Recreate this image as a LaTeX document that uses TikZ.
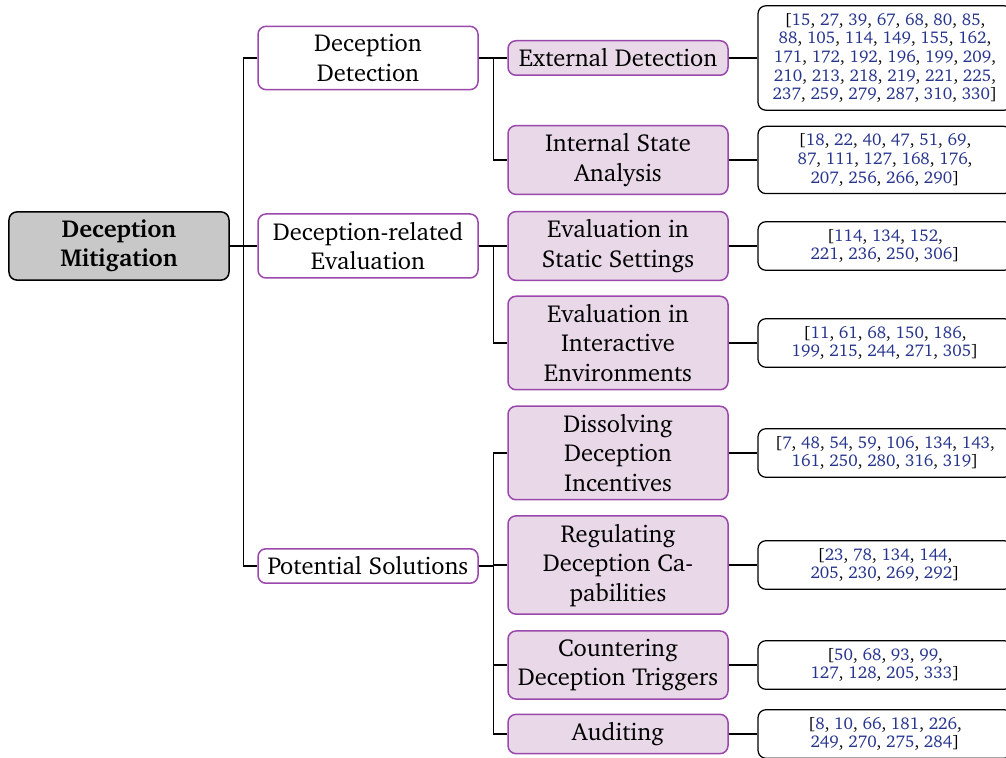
\documentclass[tikz,border=0pt]{standalone}
\usepackage[T1]{fontenc}
\usepackage{charter}
\usetikzlibrary{positioning}

\definecolor{branchline}{RGB}{155,72,172}
\definecolor{leaffill}{RGB}{232,216,232}
\definecolor{rootfill}{RGB}{200,200,200}
\definecolor{citeblue}{RGB}{38,52,140}

% one cited reference number
\newcommand{\cn}[1]{\textcolor{citeblue}{#1}}

\tikzset{
  base/.style={rounded corners=3.2pt, line width=0.6pt, align=center,
    font=\fontsize{9.8}{11.8}\selectfont, inner xsep=2pt, inner ysep=3.2pt},
  rootbox/.style={base, draw=black, fill=rootfill, minimum width=88pt,
    font=\fontsize{9.8}{11.8}\selectfont\bfseries},
  topicbox/.style={base, draw=branchline, fill=white, minimum width=88pt},
  subbox/.style={base, draw=branchline, fill=leaffill, minimum width=88pt},
  citebox/.style={rounded corners=3.2pt, line width=0.5pt, draw=black, fill=white,
    align=center, minimum width=101.6pt, inner ysep=3pt,
    font=\fontsize{6.8}{7.45}\selectfont},
  link/.style={line width=0.5pt, draw=black},
}

\begin{document}
\begin{tikzpicture}[x=0.4pt, y=-0.4pt]
\useasboundingbox (0,0) rectangle (1006,758);

% root
\node[rootbox] (root) at (119,246) {Deception\\Mitigation};

% first level
\node[topicbox] (det)  at (368,58)  {Deception\\Detection};
\node[topicbox] (eval) at (368,246) {Deception-related\\Evaluation};
\node[topicbox] (sol)  at (368,566) {Potential Solutions};

% second level
\node[subbox] (ext)   at (618,58)  {External Detection};
\node[subbox] (int)   at (618,160) {Internal State\\Analysis};
\node[subbox] (stat)  at (618,246) {Evaluation in\\Static Settings};
\node[subbox] (inter) at (618,343) {Evaluation in\\Interactive\\Environments};
\node[subbox] (diss)  at (618,453) {Dissolving\\Deception\\Incentives};
\node[subbox] (reg)   at (618,565) {Regulating\\Deception Ca-\\pabilities};
\node[subbox] (count) at (618,665) {Countering\\Deception Triggers};
\node[subbox] (aud)   at (618,734) {Auditing};

% reference lists
\node[citebox] (cext) at (885,58) {[\cn{15}, \cn{27}, \cn{39}, \cn{67}, \cn{68}, \cn{80}, \cn{85},\\
  \cn{88}, \cn{105}, \cn{114}, \cn{149}, \cn{155}, \cn{162},\\
  \cn{171}, \cn{172}, \cn{192}, \cn{196}, \cn{199}, \cn{209},\\
  \cn{210}, \cn{213}, \cn{218}, \cn{219}, \cn{221}, \cn{225},\\
  \cn{237}, \cn{259}, \cn{279}, \cn{287}, \cn{310}, \cn{330}]};
\node[citebox] (cint) at (885,160) {[\cn{18}, \cn{22}, \cn{40}, \cn{47}, \cn{51}, \cn{69},\\
  \cn{87}, \cn{111}, \cn{127}, \cn{168}, \cn{176},\\
  \cn{207}, \cn{256}, \cn{266}, \cn{290}]};
\node[citebox] (cstat) at (885,246) {[\cn{114}, \cn{134}, \cn{152},\\
  \cn{221}, \cn{236}, \cn{250}, \cn{306}]};
\node[citebox] (cinter) at (885,343) {[\cn{11}, \cn{61}, \cn{68}, \cn{150}, \cn{186},\\
  \cn{199}, \cn{215}, \cn{244}, \cn{271}, \cn{305}]};
\node[citebox] (cdiss) at (885,453) {[\cn{7}, \cn{48}, \cn{54}, \cn{59}, \cn{106}, \cn{134}, \cn{143},\\
  \cn{161}, \cn{250}, \cn{280}, \cn{316}, \cn{319}]};
\node[citebox] (creg) at (885,565) {[\cn{23}, \cn{78}, \cn{134}, \cn{144},\\
  \cn{205}, \cn{230}, \cn{269}, \cn{292}]};
\node[citebox] (ccount) at (885,665) {[\cn{50}, \cn{68}, \cn{93}, \cn{99},\\
  \cn{127}, \cn{128}, \cn{205}, \cn{333}]};
\node[citebox] (caud) at (885,734) {[\cn{8}, \cn{10}, \cn{66}, \cn{181}, \cn{226},\\
  \cn{249}, \cn{270}, \cn{275}, \cn{284}]};

% tree connectors
\draw[link] (root.east) -- ++(14,0) |- (det.west);
\draw[link] (root.east) -- ++(14,0) |- (eval.west);
\draw[link] (root.east) -- ++(14,0) |- (sol.west);

\draw[link] (det.east) -- ++(15,0) |- (ext.west);
\draw[link] (det.east) -- ++(15,0) |- (int.west);

\draw[link] (eval.east) -- ++(15,0) |- (stat.west);
\draw[link] (eval.east) -- ++(15,0) |- (inter.west);

\draw[link] (sol.east) -- ++(15,0) |- (diss.west);
\draw[link] (sol.east) -- ++(15,0) |- (reg.west);
\draw[link] (sol.east) -- ++(15,0) |- (count.west);
\draw[link] (sol.east) -- ++(15,0) |- (aud.west);

\draw[link] (ext.east)   -- (cext.west);
\draw[link] (int.east)   -- (cint.west);
\draw[link] (stat.east)  -- (cstat.west);
\draw[link] (inter.east) -- (cinter.west);
\draw[link] (diss.east)  -- (cdiss.west);
\draw[link] (reg.east)   -- (creg.west);
\draw[link] (count.east) -- (ccount.west);
\draw[link] (aud.east)   -- (caud.west);
\end{tikzpicture}
\end{document}
